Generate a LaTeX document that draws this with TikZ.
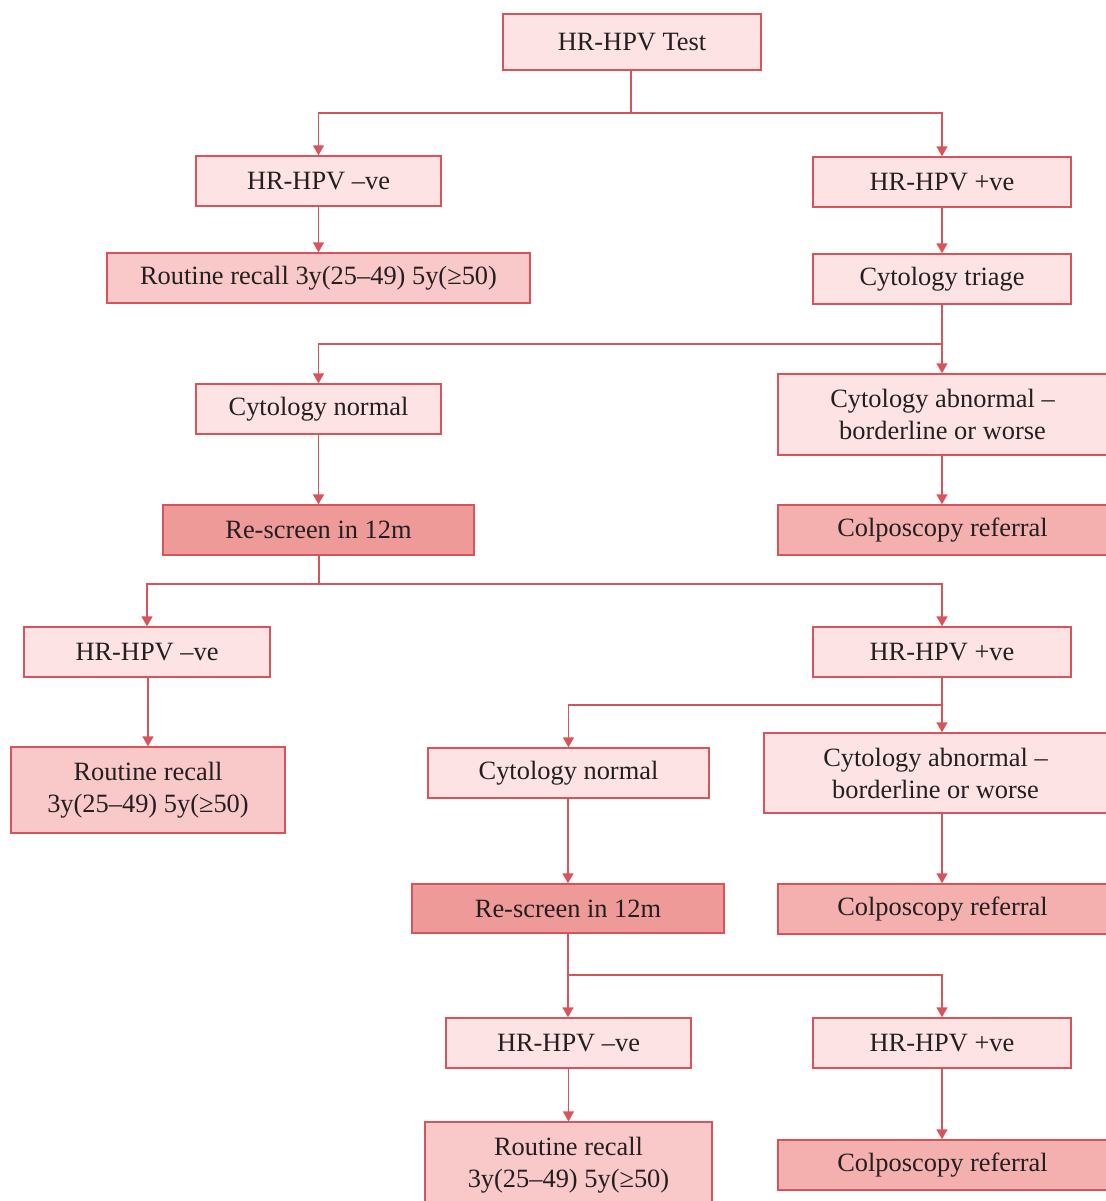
\documentclass[tikz,border=0pt]{standalone}
\usepackage{fontspec}
\setmainfont{Liberation Serif}
\usetikzlibrary{arrows.meta}
\definecolor{ink}{HTML}{231F20}
\definecolor{edge}{HTML}{D9535A}
\definecolor{palefill}{HTML}{FDE3E4}
\definecolor{recallfill}{HTML}{F9C8C8}
\definecolor{colpofill}{HTML}{F4B0AE}
\definecolor{rescreenfill}{HTML}{EE9A98}
\newcommand\boxfont{\fontsize{26.4}{32}\selectfont}
\begin{document}
\begin{tikzpicture}[x=1pt,y=-1pt,
  box/.style={draw=edge, line width=1.4pt, text=ink, inner sep=0pt, align=center, font=\boxfont},
  sz/.style 2 args={minimum width=#1pt, minimum height=#2pt},
  pale/.style={box, fill=palefill},
  recall/.style={box, fill=recallfill},
  colpo/.style={box, fill=colpofill},
  rescreen/.style={box, fill=rescreenfill},
  link/.style={draw=edge, line width=1.5pt},
  arr/.style={link, -{Triangle[width=11pt,length=10pt]}}]
\useasboundingbox (0,0) rectangle (1105,1201);

% first round
\node[pale, sz={258}{56}] (test) at (632,42) {HR-HPV Test};
\node[pale, sz={245}{50}] (neg1) at (318.5,181) {HR-HPV –ve};
\node[pale, sz={258}{50}] (pos1) at (942,182) {HR-HPV +ve};
\node[recall, sz={423}{50}] (rec1) at (318.5,278) {Routine recall 3y(25–49) 5y(≥50)};
\node[pale, sz={258}{50}] (tri) at (942,279) {Cytology triage};
\node[pale, sz={245}{50}] (cn1) at (318.5,409) {Cytology normal};
\node[pale, sz={329}{81}] (ab1) at (942.5,414.5) {Cytology abnormal –\\borderline or worse};
\node[rescreen, sz={311}{50}] (rs1) at (318.5,530) {Re-screen in 12m};
\node[colpo, sz={329}{50}] (cp1) at (942.5,530) {Colposcopy referral};

% second round
\node[pale, sz={246}{50}] (neg2) at (147,652) {HR-HPV –ve};
\node[pale, sz={258}{50}] (pos2) at (942,652) {HR-HPV +ve};
\node[recall, sz={274}{86}] (rec2) at (148,790) {Routine recall\\3y(25–49) 5y(≥50)};
\node[pale, sz={281}{50}] (cn2) at (568.5,773) {Cytology normal};
\node[pale, sz={343}{80}] (ab2) at (935.5,773) {Cytology abnormal –\\borderline or worse};
\node[rescreen, sz={312}{49}] (rs2) at (568,908.5) {Re-screen in 12m};
\node[colpo, sz={329}{50}] (cp2) at (942.5,909) {Colposcopy referral};

% third round
\node[pale, sz={245}{50}] (neg3) at (568.5,1043) {HR-HPV –ve};
\node[pale, sz={258}{50}] (pos3) at (942,1043) {HR-HPV +ve};
\node[recall, sz={287}{86}] (rec3) at (568.5,1165) {Routine recall\\3y(25–49) 5y(≥50)};
\node[colpo, sz={329}{50}] (cp3) at (942.5,1165) {Colposcopy referral};

% branching points
\coordinate (j1) at (631,113);
\coordinate (j2) at (942,344);
\coordinate (j3) at (319,584);
\coordinate (j4) at (942,705);
\coordinate (j5) at (568,975);

% connectors
\draw[link] (test.south -| j1) -- (j1);
\draw[arr] (j1) -| (neg1.north);
\draw[arr] (j1) -| (pos1.north);
\draw[arr] (neg1) -- (rec1);
\draw[arr] (pos1) -- (tri);
\draw[link] (tri.south) -- (j2);
\draw[arr] (j2) -| (cn1.north);
\draw[arr] (j2) -- (ab1.north -| j2);
\draw[arr] (cn1) -- (rs1);
\draw[arr] (ab1.south -| j2) -- (cp1.north -| j2);
\draw[link] (rs1.south -| j3) -- (j3);
\draw[arr] (j3) -| (neg2.north);
\draw[arr] (j3) -| (pos2.north);
\draw[arr] (neg2.south -| rec2.north) -- (rec2.north);
\draw[link] (pos2.south) -- (j4);
\draw[arr] (j4) -| (cn2.north);
\draw[arr] (j4) -- (ab2.north -| j4);
\draw[arr] (cn2.south -| j5) -- (rs2.north -| j5);
\draw[arr] (ab2.south -| j4) -- (cp2.north -| j4);
\draw[link] (rs2.south -| j5) -- (j5);
\draw[arr] (j5) -- (neg3.north -| j5);
\draw[arr] (j5) -| (pos3.north);
\draw[arr] (neg3) -- (rec3);
\draw[arr] (pos3) -- (cp3.north -| pos3);
\end{tikzpicture}
\end{document}
